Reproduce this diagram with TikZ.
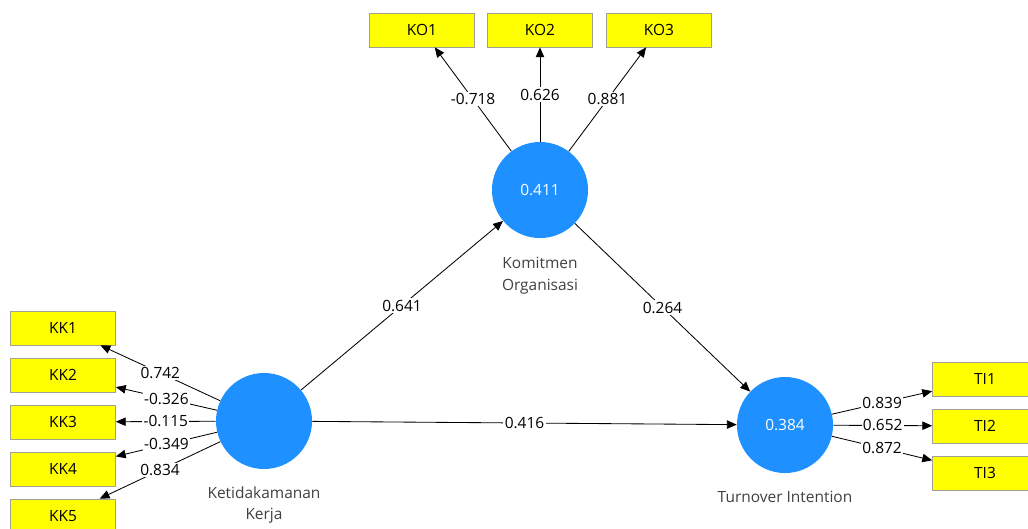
\documentclass[tikz,border=0pt]{standalone}
\usepackage{fontspec}
\setmainfont{Open Sans}
\usetikzlibrary{arrows.meta}
\definecolor{lvblue}{RGB}{30,144,255}
\definecolor{mvyellow}{RGB}{255,255,0}
\definecolor{mvborder}{RGB}{160,160,150}
\tikzset{
	lv/.style={circle, fill=lvblue, minimum size=2.4cm, inner sep=0pt, text=white},
	mv/.style={rectangle, fill=mvyellow, draw=mvborder, line width=0.5pt, minimum width=2.625cm, minimum height=0.85cm, inner sep=0pt},
	lbl/.style={fill=white, inner sep=1pt},
	lvname/.style={align=center, text=black!75},
	link/.style={->, line width=0.6pt, >={Triangle[length=7pt,width=6pt]}}
}
\begin{document}
\begin{tikzpicture}[x=0.025cm, y=-0.025cm, font=\fontsize{11}{15.5}\selectfont]
	\useasboundingbox (0,0) rectangle (1028,528);
	
	\node[lv] (ko) at (540,190) {0.411};
	\node[lv] (kk) at (264,421) {};
	\node[lv] (ti) at (785,425) {0.384};
	
	\node[lvname] (koname) at (540,276) {Komitmen\\Organisasi};
	\node[lvname] (kkname) at (264,505) {Ketidakamanan\\Kerja};
	\node[lvname] (tiname) at (785,497) {Turnover Intention};
	
	\node[mv] (ko1) at (422,30) {KO1};
	\node[mv] (ko2) at (540,30) {KO2};
	\node[mv] (ko3) at (659,30) {KO3};
	
	\node[mv] (kk1) at (63,328) {KK1};
	\node[mv] (kk2) at (63,375) {KK2};
	\node[mv] (kk3) at (63,422) {KK3};
	\node[mv] (kk4) at (63,469) {KK4};
	\node[mv] (kk5) at (63,516) {KK5};
	
	\node[mv] (ti1) at (985,379) {TI1};
	\node[mv] (ti2) at (985,426) {TI2};
	\node[mv] (ti3) at (985,473) {TI3};
	
	\draw[link] (ko) -- (ko1) node[midway,lbl]{-0.718};
	\draw[link] (ko) -- (ko2) node[midway,lbl]{0.626};
	\draw[link] (ko) -- (ko3) node[midway,lbl]{0.881};
	
	\draw[link] (kk) -- (kk1) node[midway,lbl]{0.742};
	\draw[link] (kk) -- (kk2) node[midway,lbl]{-0.326};
	\draw[link] (kk) -- (kk3) node[midway,lbl]{-0.115};
	\draw[link] (kk) -- (kk4) node[midway,lbl]{-0.349};
	\draw[link] (kk) -- (kk5) node[midway,lbl]{0.834};
	
	\draw[link] (ti) -- (ti1) node[midway,lbl]{0.839};
	\draw[link] (ti) -- (ti2) node[midway,lbl]{0.652};
	\draw[link] (ti) -- (ti3) node[midway,lbl]{0.872};
	
	\draw[link] (kk) -- (ko) node[midway,lbl]{0.641};
	\draw[link] (ko) -- (ti) node[midway,lbl]{0.264};
	\draw[link] (kk) -- (ti) node[midway,lbl]{0.416};
\end{tikzpicture}
\end{document}
